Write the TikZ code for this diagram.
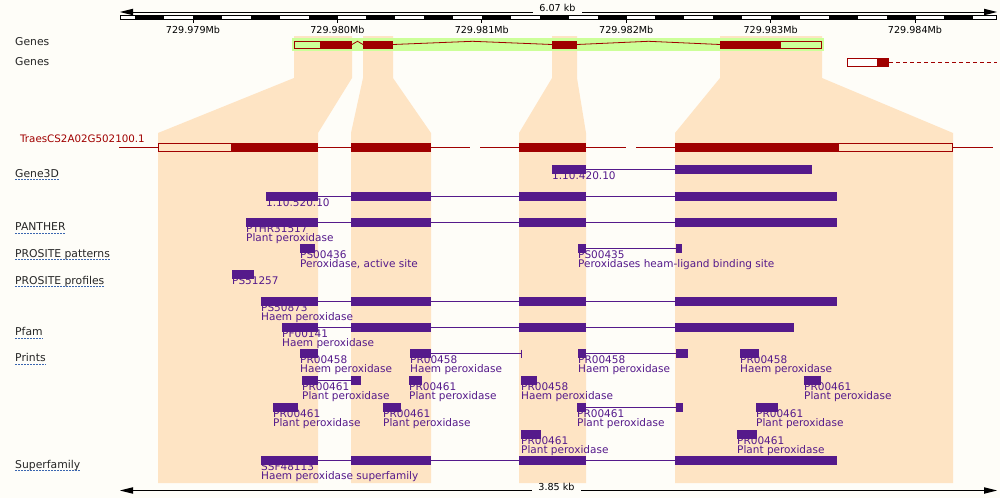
\documentclass[tikz,border=0pt]{standalone}
\usepackage{fontspec}
\setmainfont{DejaVu Sans}
\definecolor{bgc}{HTML}{FEFDF8}
\definecolor{peach}{HTML}{FEE4C4}
\definecolor{lime}{HTML}{CCFF99}
\definecolor{dred}{HTML}{A00000}
\definecolor{purp}{HTML}{551A8B}
\definecolor{ulc}{HTML}{3A66B0}
\newcounter{lc}
\newcommand\bx[3]{\fill[purp] (#1,#3) rectangle (#2,#3+8.6);}
\newcommand\cn[3]{\draw[purp,line width=0.9pt] (#1,#3+4.3) -- (#2,#3+4.3);}
\newcommand\tla[3]{\stepcounter{lc}\node[flab] (f\thelc) at (#1,#2+14.3) {#3};}
\newcommand\tl[4]{\tla{#1}{#2}{#3}\stepcounter{lc}\node[flab] (f\thelc) at (#1,#2+23.5) {#4};}
\newcommand\full[3]{\bx{#1}{318}{#2}\cn{318}{351}{#2}\bx{351}{431}{#2}\cn{431}{519}{#2}\bx{519}{586}{#2}\cn{586}{675}{#2}\bx{675}{#3}{#2}}
\newcommand\peachcol[4]{\fill[peach] (#1,36) -- (#2,36) -- (#2,78) -- (#4,133) -- (#4,483) -- (#3,483) -- (#3,133) -- (#1,78) -- cycle;}
\newcommand\trk[3]{\node[tlab] (#1) at (15,#2) {#3};
  \draw[ulc,line width=0.8pt,dash pattern=on 1.5pt off 1.5pt] ([yshift=-2.2pt]#1.base west) -- ([yshift=-2.2pt]#1.base east);}
\begin{document}
\begin{tikzpicture}[x=1pt,y=-1pt,
  flab/.style={anchor=base west,inner sep=0pt,text=purp,font=\fontsize{10.5}{12}\selectfont},
  tlab/.style={anchor=base west,inner sep=0pt,text=black!85,font=\fontsize{10.8}{12}\selectfont},
  slab/.style={anchor=base,inner sep=0pt,text=black,font=\fontsize{9.6}{11}\selectfont},
  intr/.style={draw=dred,line width=0.8pt},
  tline/.style={draw=dred,line width=0.9pt}]
\useasboundingbox (0,0) rectangle (1000,498);
\fill[bgc] (0,0) rectangle (1000,498);
% peach highlight columns
\peachcol{294}{352}{158}{318}
\peachcol{363}{393}{351}{431}
\peachcol{552}{577}{519}{586}
\peachcol{720}{822}{675}{953}
% top scale
\fill (120,12) -- (133,8.7) -- (133,15.3) -- cycle;
\fill (997,12) -- (984,8.7) -- (984,15.3) -- cycle;
\draw[line width=0.9pt] (130,12) -- (533,12);
\draw[line width=0.9pt] (582,12) -- (987,12);
\node[slab] (topkb) at (557.5,11.8) {6.07 kb};
\filldraw[fill=white,draw=black,line width=0.8pt] (120.5,15.5) rectangle (996,19.5);
\foreach \k in {0,...,14} \fill (135.2+57.8*\k,15.5) rectangle (164.1+57.8*\k,19.5);
\foreach \t/\l [count=\i] in {193.0/729.979Mb,337.4/729.980Mb,481.8/729.981Mb,626.2/729.982Mb,770.6/729.983Mb,915.0/729.984Mb}{
  \draw[line width=0.8pt] (\t,19.5) -- (\t,22.5);
  \node[slab] (tick\i) at (\t,33.5) {\l};}
% genes
\node[tlab] (genes1) at (15,45.7) {Genes};
\node[tlab] (genes2) at (15,65.7) {Genes};
\fill[lime] (292,38) rectangle (824,50.7);
\filldraw[fill=lime,draw=dred,line width=0.9pt] (294.5,41.1) rectangle (320,48.3);
\fill[dred] (320,40.7) rectangle (352,48.7);
\fill[dred] (363,40.7) rectangle (393,48.7);
\fill[dred] (552,40.7) rectangle (577,48.7);
\fill[dred] (720,40.7) rectangle (780,48.7);
\filldraw[fill=lime,draw=dred,line width=0.9pt] (780,41.1) rectangle (821.5,48.3);
\draw[intr] (352,44.5) -- (357.5,41.3) -- (363,44.5);
\draw[intr] (393,44.5) -- (472.5,41.3) -- (552,44.5);
\draw[intr] (577,44.5) -- (648.5,41.3) -- (720,44.5);
\filldraw[fill=white,draw=dred,line width=0.9pt] (847.2,58.8) rectangle (877,66.2);
\fill[dred] (877,58.3) rectangle (889,66.7);
\draw[dred,line width=0.9pt,dash pattern=on 4pt off 3pt] (889,62.5) -- (997,62.5);
% transcript
\node[tlab,text=dred,font=\fontsize{10.3}{12}\selectfont] (tr) at (20,142.7) {TraesCS2A02G502100.1};
\foreach \a/\b in {119/158,318/351,431/470,480/519,586/626,636/675,953/993} \draw[tline] (\a,147.5) -- (\b,147.5);
\filldraw[fill=peach,draw=dred,line width=0.9pt] (158.5,143.5) rectangle (231,151.5);
\fill[dred] (231,143) rectangle (318,152);
\fill[dred] (351,143) rectangle (431,152);
\fill[dred] (519,143) rectangle (586,152);
\fill[dred] (675,143) rectangle (838,152);
\filldraw[fill=peach,draw=dred,line width=0.9pt] (838,143.5) rectangle (952.5,151.5);
% track labels
\trk{gene3d}{177.3}{Gene3D}
\trk{panther}{230.7}{PANTHER}
\trk{prpat}{257.3}{PROSITE patterns}
\trk{prprof}{284}{PROSITE profiles}
\trk{pfam}{335.7}{Pfam}
\trk{prints}{361.7}{Prints}
\trk{superf}{468.3}{Superfamily}
% Gene3D
\bx{552}{586}{165}\cn{586}{675}{165}\bx{675}{812}{165}
\tla{552}{165}{1.10.420.10}
\full{266}{192}{837}
\tla{266}{192}{1.10.520.10}
% PANTHER
\full{246}{218}{837}
\tl{246}{218}{PTHR31517}{Plant peroxidase}
% PROSITE patterns
\bx{300}{315}{244}
\tl{300}{244}{PS00436}{Peroxidase, active site}
\bx{578}{586}{244}\cn{586}{675.5}{244}\bx{675.5}{682}{244}
\tl{578}{244}{PS00435}{Peroxidases heam-ligand binding site}
% PROSITE profiles
\bx{232}{254}{270}
\tla{232}{270}{PS51257}
\full{261}{297}{837}
\tl{261}{297}{PS50873}{Haem peroxidase}
% Pfam
\full{282}{323}{794}
\tl{282}{323}{PF00141}{Haem peroxidase}
% Prints row 1
\bx{300}{318}{349}
\tl{300}{349}{PR00458}{Haem peroxidase}
\bx{410}{431}{349}\cn{431}{521}{349}\draw[purp,line width=0.9pt] (521,349.5) -- (521,357.5);
\tl{410}{349}{PR00458}{Haem peroxidase}
\bx{578}{586}{349}\cn{586}{676}{349}\bx{676}{688}{349}
\tl{578}{349}{PR00458}{Haem peroxidase}
\bx{740}{759}{349}
\tl{740}{349}{PR00458}{Haem peroxidase}
% Prints row 2
\bx{302}{318}{376}\cn{318}{351}{376}\bx{351}{361}{376}
\tl{302}{376}{PR00461}{Plant peroxidase}
\bx{409}{422}{376}
\tl{409}{376}{PR00461}{Plant peroxidase}
\bx{521}{537}{376}
\tl{521}{376}{PR00458}{Haem peroxidase}
\bx{804}{821}{376}
\tl{804}{376}{PR00461}{Plant peroxidase}
% Prints row 3
\bx{273}{298}{403}
\tl{273}{403}{PR00461}{Plant peroxidase}
\bx{383}{401}{403}
\tl{383}{403}{PR00461}{Plant peroxidase}
\bx{577}{586}{403}\cn{586}{676}{403}\bx{676}{683}{403}
\tl{577}{403}{PR00461}{Plant peroxidase}
\bx{756}{778}{403}
\tl{756}{403}{PR00461}{Plant peroxidase}
% Prints row 4
\bx{521}{541}{430}
\tl{521}{430}{PR00461}{Plant peroxidase}
\bx{737}{757}{430}
\tl{737}{430}{PR00461}{Plant peroxidase}
% Superfamily
\full{261}{456}{837}
\tl{261}{456}{SSF48113}{Haem peroxidase superfamily}
% bottom scale
\fill (120,490.5) -- (133,487.2) -- (133,493.8) -- cycle;
\fill (997,490.5) -- (984,487.2) -- (984,493.8) -- cycle;
\draw[line width=0.9pt] (130,490.5) -- (532,490.5);
\draw[line width=0.9pt] (581,490.5) -- (987,490.5);
\node[slab] (botkb) at (556.5,490.3) {3.85 kb};
\end{tikzpicture}
\end{document}
